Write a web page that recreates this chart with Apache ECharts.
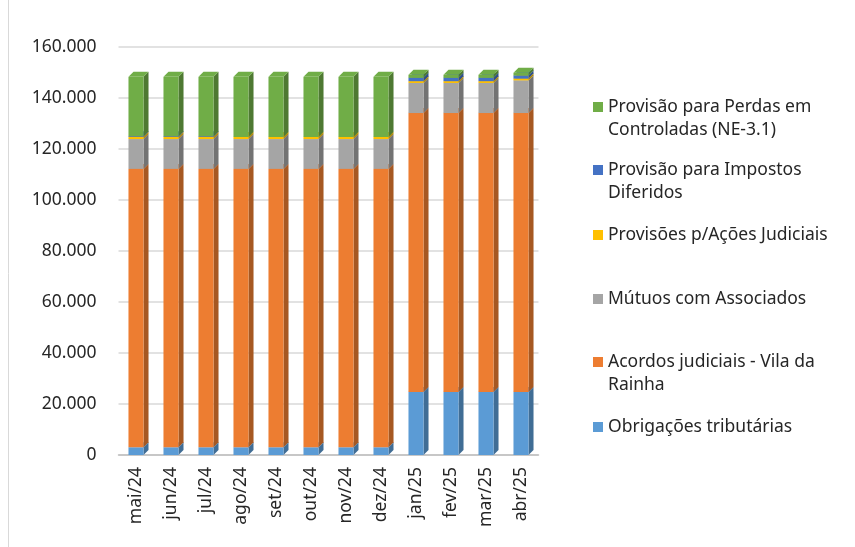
<!DOCTYPE html>
<html>
<head>
<meta charset="utf-8">
<script src="https://cdn.jsdelivr.net/npm/echarts@6/dist/echarts.min.js"></script>
<style>
  html, body { margin: 0; padding: 0; background: #fff; }
  #chart { width: 855px; height: 547px; }
</style>
</head>
<body>
<div id="chart"></div>
<script>
// meses (eixo x)
const categories = ['mai/24', 'jun/24', 'jul/24', 'ago/24', 'set/24', 'out/24',
                    'nov/24', 'dez/24', 'jan/25', 'fev/25', 'mar/25', 'abr/25'];

// valores (de baixo para cima na pilha)
const obrigacoes = [3000, 3000, 3000, 3000, 3000, 3000, 3000, 3000, 24700, 24700, 24700, 24700];
const acordos    = [109200, 109200, 109200, 109200, 109200, 109200, 109200, 109200, 109400, 109400, 109400, 109400];
const mutuos     = [11700, 11700, 11700, 11700, 11700, 11700, 11700, 11700, 11800, 11800, 11800, 12800];
const acoes      = [800, 800, 800, 800, 800, 800, 800, 800, 700, 700, 700, 700];
const impostos   = [300, 300, 300, 0, 0, 0, 0, 0, 1300, 1300, 1300, 1200];
const perdas     = [23300, 23300, 23300, 23600, 23600, 23600, 23600, 23600, 1200, 1200, 1200, 1100];

// ticks do eixo y
const yTicks = [0, 20000, 40000, 60000, 80000, 100000, 120000, 140000, 160000];

const chart = echarts.init(document.getElementById('chart'));
const font = 'Noto Sans';
const textColor = '#262626';

// escurece a cor para a face lateral da barra
function shade(hex, f) {
  const n = parseInt(hex.slice(1), 16);
  const r = Math.round(((n >> 16) & 255) * f);
  const g = Math.round(((n >> 8) & 255) * f);
  const b = Math.round((n & 255) * f);
  return 'rgb(' + r + ',' + g + ',' + b + ')';
}

// barra com efeito 3D (frente, lateral e topo)
function bar3d(color) {
  const side = shade(color, 0.7);
  return function (params, api) {
    const lo = api.value(1), hi = api.value(2);
    if (hi - lo <= 0) return;
    const p0 = api.coord([api.value(0), lo]);
    const p1 = api.coord([api.value(0), hi]);
    const w = api.size([1, 0])[0] * 0.43;
    const l = p0[0] - w / 2, r = p0[0] + w / 2, d = 5;
    return {
      type: 'group',
      children: [
        { type: 'polygon', shape: { points: [[r, p1[1]], [r + d, p1[1] - d], [r + d, p0[1] - d], [r, p0[1]]] }, style: { fill: side } },
        { type: 'rect', shape: { x: l, y: p1[1], width: w, height: p0[1] - p1[1] }, style: { fill: color } },
        { type: 'polygon', shape: { points: [[l, p1[1]], [l + d, p1[1] - d], [r + d, p1[1] - d], [r, p1[1]]] }, style: { fill: color } }
      ]
    };
  };
}

const seriesDefs = [
  { name: 'Obrigações tributárias', color: '#5B9BD5', values: obrigacoes },
  { name: 'Acordos judiciais - Vila da Rainha', color: '#ED7D31', values: acordos },
  { name: 'Mútuos com Associados', color: '#A5A5A5', values: mutuos },
  { name: 'Provisões p/Ações Judiciais', color: '#FFC000', values: acoes },
  { name: 'Provisão para Impostos Diferidos', color: '#4472C4', values: impostos },
  { name: 'Provisão para Perdas em Controladas (NE-3.1)', color: '#70AD47', values: perdas }
];

// empilhamento manual
const base = categories.map(() => 0);
const series = seriesDefs.map(s => {
  const data = s.values.map((v, i) => {
    const lo = base[i];
    base[i] += v;
    return [i, lo, base[i]];
  });
  return {
    type: 'custom',
    name: s.name,
    itemStyle: { color: s.color },
    renderItem: bar3d(s.color),
    encode: { x: 0, y: [1, 2] },
    data: data
  };
});

// legenda: texto em duas linhas onde o Excel quebra
// (linha vazia no início para alinhar o ícone com a primeira linha)
const legendItems = [
  { name: seriesDefs[5].name, label: '\nProvisão para Perdas em\nControladas (NE-3.1)', top: 72.5 },
  { name: seriesDefs[4].name, label: '\nProvisão para Impostos\nDiferidos', top: 135.5 },
  { name: seriesDefs[3].name, label: 'Provisões p/Ações Judiciais', top: 223.5 },
  { name: seriesDefs[2].name, label: 'Mútuos com Associados', top: 287.5 },
  { name: seriesDefs[1].name, label: '\nAcordos judiciais - Vila da\nRainha', top: 327.5 },
  { name: seriesDefs[0].name, label: 'Obrigações tributárias', top: 415.5 }
];

const fmt = v => String(v).replace(/\B(?=(\d{3})+(?!\d))/g, '.');

chart.setOption({
  backgroundColor: '#fff',
  animation: false,
  grid: { left: 118.5, right: 316.5, top: 47, bottom: 92 },
  legend: legendItems.map(it => ({
    data: [it.name],
    left: 593,
    top: it.top,
    padding: 0,
    icon: 'rect',
    itemWidth: 10,
    itemHeight: 10,
    selectedMode: false,
    formatter: () => it.label,
    textStyle: { fontFamily: font, fontSize: 17.5, color: textColor, lineHeight: 23 }
  })),
  xAxis: {
    type: 'category',
    data: categories,
    axisTick: { show: false },
    axisLine: { lineStyle: { color: '#bfbfbf', width: 1.5 } },
    axisLabel: { rotate: 90, margin: 12, fontFamily: font, fontSize: 17.5, color: textColor }
  },
  yAxis: {
    type: 'value',
    min: yTicks[0],
    max: yTicks[yTicks.length - 1],
    interval: yTicks[1] - yTicks[0],
    axisLine: { show: false },
    axisTick: { show: false },
    axisLabel: { margin: 22, fontFamily: font, fontSize: 17.5, color: textColor, formatter: fmt },
    splitLine: { lineStyle: { color: '#d9d9d9', width: 1.5 } }
  },
  graphic: [
    { type: 'line', shape: { x1: 8.5, y1: 0, x2: 8.5, y2: 547 }, style: { stroke: '#d9d9d9', lineWidth: 1 } }
  ],
  series: series
});
</script>
</body>
</html>
